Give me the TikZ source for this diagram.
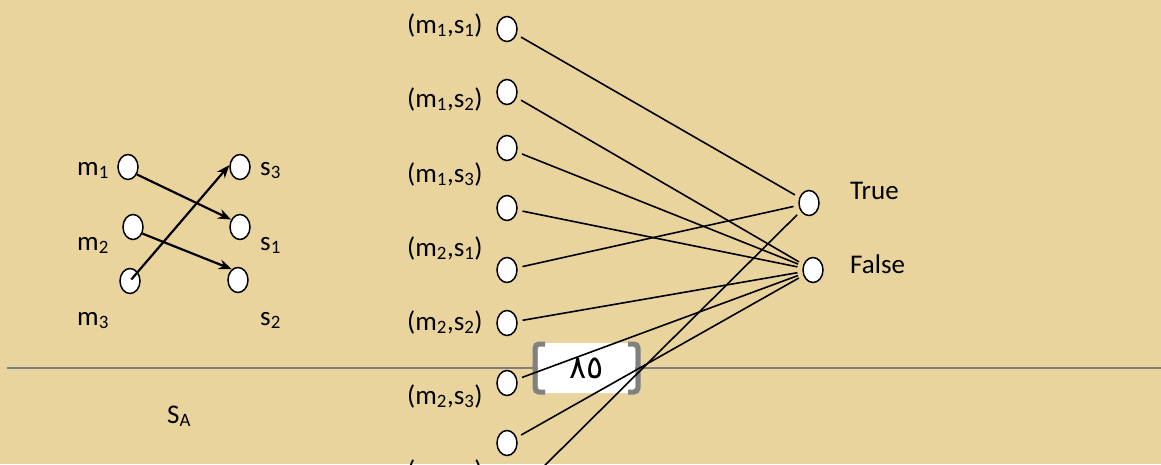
\documentclass[tikz,border=0pt]{standalone}
\usepackage{fontspec}
\setmainfont{Carlito}
\newfontfamily\arabicfont[Script=Arabic]{DejaVu Sans}
\usetikzlibrary{shapes.geometric,arrows.meta}
\definecolor{papyrus}{RGB}{234,212,158}
\definecolor{rulegray}{RGB}{128,128,128}
\begin{document}
\begin{tikzpicture}[x=1pt,y=-1pt,
  vtx/.style={ellipse,draw,fill=white,line width=1.5pt,minimum width=20pt,minimum height=25pt,inner sep=0pt},
  lbl/.style={anchor=base west,inner sep=0pt,font=\fontsize{27}{32}\selectfont},
  edge/.style={line width=1.6pt,shorten <=5pt,shorten >=5pt},
  arr/.style={line width=2.2pt,-{Stealth[length=13pt,width=10pt]}},
  bracketline/.style={rulegray,line width=5pt,rounded corners=4pt}
]
\clip (0,0) rectangle (1161,464);
\fill[papyrus] (0,0) rectangle (1161,464);
% horizontal rule
\draw[rulegray,line width=2pt] (7,368) -- (1161,368);
% page number box
\node[fill=white,rounded corners=8pt,minimum width=97pt,minimum height=50pt,inner sep=0pt] (pg) at (586.5,368)
  {\arabicfont\fontsize{32}{36}\selectfont ٨٥};
\draw[bracketline] (545,344) -- (535,344) -- (535,392) -- (545,392);
\draw[bracketline] (628,344) -- (638,344) -- (638,392) -- (628,392);
% left mapping
\node[vtx] (m1) at (128,167) {};
\node[vtx] (m2) at (133,227) {};
\node[vtx] (m3) at (130,281) {};
\node[vtx] (s3) at (240,167) {};
\node[vtx] (s1) at (240,227) {};
\node[vtx] (s2) at (238,280) {};
\node[lbl] (lm1) at (77,175) {m\textsubscript{1}};
\node[lbl] (lm2) at (77,250) {m\textsubscript{2}};
\node[lbl] (lm3) at (77,325) {m\textsubscript{3}};
\node[lbl] (ls3) at (260,175) {s\textsubscript{3}};
\node[lbl] (ls1) at (260,250) {s\textsubscript{1}};
\node[lbl] (ls2) at (260,325) {s\textsubscript{2}};
\draw[arr] (m1.-40) -- (s1.140);
\draw[arr] (m2.-35) -- (s2.120);
\draw[arr,shorten <=2pt] (m3.center) -- (s3.170);
\node[lbl] (sa) at (167,423) {S\textsubscript{A}};
% middle column
\node[vtx] (c1) at (507,29) {};
\node[vtx] (c2) at (507,92) {};
\node[vtx] (c3) at (507,148) {};
\node[vtx] (c4) at (507,208) {};
\node[vtx] (c5) at (507,270) {};
\node[vtx] (c6) at (507,323) {};
\node[vtx] (c7) at (507,383) {};
\node[vtx] (c8) at (507,443) {};
\node[vtx] (c9) at (507,503) {};
\node[lbl] (l1) at (407,33) {(m\textsubscript{1},s\textsubscript{1})};
\node[lbl] (l2) at (407,107) {(m\textsubscript{1},s\textsubscript{2})};
\node[lbl] (l3) at (407,182) {(m\textsubscript{1},s\textsubscript{3})};
\node[lbl] (l4) at (407,256) {(m\textsubscript{2},s\textsubscript{1})};
\node[lbl] (l5) at (407,330) {(m\textsubscript{2},s\textsubscript{2})};
\node[lbl] (l6) at (407,404) {(m\textsubscript{2},s\textsubscript{3})};
\node[lbl] (l7) at (407,479) {(m\textsubscript{3},s\textsubscript{1})};
% right column
\node[vtx] (T) at (809,203) {};
\node[vtx] (F) at (813,270) {};
\node[lbl] (lT) at (850,199) {True};
\node[lbl] (lF) at (850,273) {False};
% edges
\draw[edge] (c1) -- (T);
\draw[edge] (c2) -- (F);
\draw[edge] (c3) -- (F);
\draw[edge] (c4) -- (F);
\draw[edge] (c5) -- (T);
\draw[edge] (c6) -- (F);
\draw[edge] (c7) -- (F);
\draw[edge] (c8) -- (F);
\draw[edge] (c9) -- (T);
\end{tikzpicture}
\end{document}
